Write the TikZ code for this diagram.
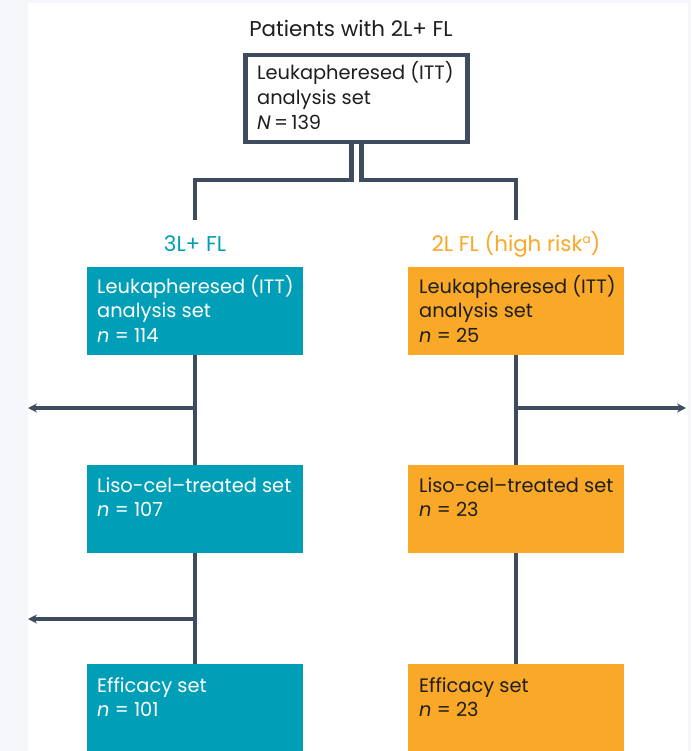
\documentclass[tikz,border=0pt]{standalone}
\usepackage{fontspec}
\setmainfont{Poppins}
\usetikzlibrary{arrows.meta}
\definecolor{tealc}{HTML}{009FB7}
\definecolor{orngc}{HTML}{F9A828}
\definecolor{slate}{HTML}{3F4B5E}
\definecolor{bgg}{HTML}{F5F7FA}
\definecolor{ink}{HTML}{1E1E1E}
\newcommand\boxtxt[1]{\begin{tabular}[t]{@{}l@{}}#1\end{tabular}}
\newcommand\supa{\raisebox{7pt}{\fontsize{12}{12}\selectfont a}}
\begin{document}
\begin{tikzpicture}[x=1pt,y=-1pt,
  conn/.style={draw=slate, line width=4.5pt},
  arr/.style={conn, -{Stealth[length=9pt,width=9pt]}},
  setbox/.style={anchor=north west, inner sep=0pt, outer sep=0pt, minimum width=216pt, minimum height=88pt},
  tealbox/.style={setbox, fill=tealc},
  orngbox/.style={setbox, fill=orngc},
  txt/.style={anchor=base west, inner sep=0pt, font=\fontsize{19.4}{24.8}\selectfont},
  lbl/.style={anchor=base, inner sep=0pt, font=\fontsize{21.4}{25}\selectfont}]
\renewcommand\arraystretch{1}
\useasboundingbox (0,0) rectangle (691,751);
\fill[bgg] (0,0) rectangle (691,751);
\fill[white] (28,3) rectangle (688,751);

% title and top box
\node[lbl, text=ink] (title) at (351,37) {Patients with 2L+ FL};
\node[draw=slate, line width=4.5pt, anchor=north west, inner sep=0pt, outer sep=0pt,
      minimum width=222pt, minimum height=87pt] (top) at (245.5,55) {};
\node[txt, text=ink] (toptxt) at (257,80) {\boxtxt{Leukapheresed (ITT)\\analysis set\\\textit{N}\,=\,139}};

% group labels
\node[lbl, text=tealc] (lab3) at (195,251) {3L+ FL};
\node[lbl, text=orngc] (lab2) at (516,251) {2L FL (high risk\supa)};

% left column
\node[tealbox] (t1) at (87,267) {};
\node[txt, text=white] (t1txt) at (97,293) {\boxtxt{Leukapheresed (ITT)\\analysis set\\\textit{n} = 114}};
\node[tealbox] (t2) at (87,465) {};
\node[txt, text=white] (t2txt) at (97,492) {\boxtxt{Liso-cel--treated set\\\textit{n} = 107}};
\node[tealbox, minimum height=90pt] (t3) at (87,664) {};
\node[txt, text=white] (t3txt) at (97,692) {\boxtxt{Efficacy set\\\textit{n} = 101}};

% right column
\node[orngbox] (o1) at (408,267) {};
\node[txt, text=ink] (o1txt) at (419,293) {\boxtxt{Leukapheresed (ITT)\\analysis set\\\textit{n} = 25}};
\node[orngbox] (o2) at (408,465) {};
\node[txt, text=ink] (o2txt) at (419,492) {\boxtxt{Liso-cel--treated set\\\textit{n} = 23}};
\node[orngbox, minimum height=90pt] (o3) at (408,664) {};
\node[txt, text=ink] (o3txt) at (419,692) {\boxtxt{Efficacy set\\\textit{n} = 23}};

% coordinates
\coordinate (jl) at (195,180);
\coordinate (jr) at (516,180);
\coordinate (el) at (195,220);
\coordinate (er) at (516,220);
\coordinate (a1) at (195,408);
\coordinate (a1e) at (28,408);
\coordinate (b1) at (516,408);
\coordinate (b1e) at (686,408);
\coordinate (a2) at (195,619);
\coordinate (a2e) at (28,619);

% connectors
\draw[conn] ([xshift=-5pt]top.south) |- (jl) -- (el);
\draw[conn] ([xshift=5pt]top.south) |- (jr) -- (er);
\draw[conn] (t1.south) -- (t2.north);
\draw[conn] (t2.south) -- (t3.north);
\draw[conn] (o1.south) -- (o2.north);
\draw[conn] (o2.south) -- (o3.north);
\draw[arr] (a1) -- (a1e);
\draw[arr] (b1) -- (b1e);
\draw[arr] (a2) -- (a2e);
\end{tikzpicture}
\end{document}
